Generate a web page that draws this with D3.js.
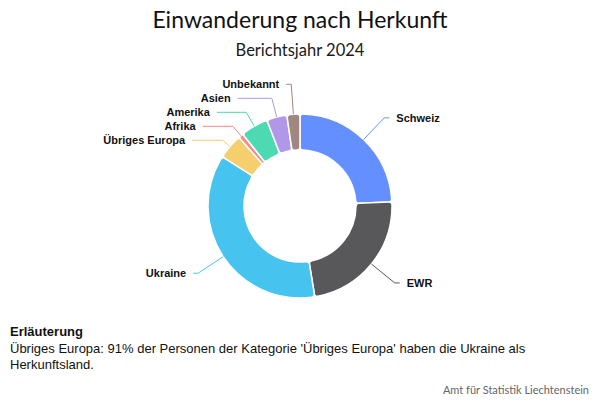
<!DOCTYPE html>
<html>
<head>
<meta charset="utf-8">
<script src="https://cdn.jsdelivr.net/npm/d3@7"></script>
<style>
    body { margin: 0; background: #fff; }
    svg { display: block; }
</style>
</head>
<body>
<div id="chart"></div>
<script>
// data (persons, estimated)
const categories = ["Schweiz", "EWR", "Ukraine", "Übriges Europa", "Afrika", "Amerika", "Asien", "Unbekannt"];
const values = [170, 162, 256, 31, 6, 34, 25, 16];
const colors = ["#648fff", "#58585a", "#47c3f0", "#f5cf6e", "#f88a88", "#4dd9b2", "#b197e8", "#a08880"];

const width = 600, height = 400;
const cx = 300, cy = 206;
const rInner = 56, rOuter = 92;
const rLine = 122, len2 = 5, gap = 7, labelH = 14;

const svg = d3.select("#chart").append("svg")
    .attr("width", width)
    .attr("height", height);

// titles
svg.append("text")
    .attr("x", width / 2).attr("y", 28)
    .attr("text-anchor", "middle")
    .style("font-family", "Lato, sans-serif")
    .style("font-size", "23px")
    .style("fill", "#111")
    .text("Einwanderung nach Herkunft");

svg.append("text")
    .attr("x", width / 2).attr("y", 56)
    .attr("text-anchor", "middle")
    .style("font-family", "Lato, sans-serif")
    .style("font-size", "16.5px")
    .style("fill", "#1a1a1a")
    .text("Berichtsjahr 2024");

const data = categories.map((c, i) => ({name: c, value: values[i], color: colors[i]}));

const pie = d3.pie().sort(null).value(d => d.value);
const arc = d3.arc().innerRadius(rInner).outerRadius(rOuter).cornerRadius(3);
const arcs = pie(data);

const g = svg.append("g").attr("transform", `translate(${cx},${cy})`);

g.selectAll("path.slice")
    .data(arcs)
    .enter().append("path")
    .attr("class", "slice")
    .attr("d", arc)
    .style("fill", d => d.data.color)
    .style("stroke", "#fff")
    .style("stroke-width", 1.5);

// label layout: radial line, then horizontal, labels pushed apart on y
arcs.forEach(d => {
    d.mid = (d.startAngle + d.endAngle) / 2;
    d.dir = d.mid < Math.PI ? 1 : -1;
    d.ox = Math.sin(d.mid) * rOuter;
    d.oy = -Math.cos(d.mid) * rOuter;
    d.ly = -Math.cos(d.mid) * rLine;
});

[1, -1].forEach(dir => {
    const side = arcs.filter(d => d.dir === dir).sort((a, b) => a.ly - b.ly);
    let prev = -Infinity;
    side.forEach(d => {
        d.ly = Math.max(d.ly, prev + labelH);
        prev = d.ly;
    });
});

arcs.forEach(d => {
    const dx = Math.sqrt(Math.max(0, rLine * rLine - d.ly * d.ly));
    d.ex = d.dir * (dx + len2);
    const c = -Math.cos(d.mid);
    const t = Math.abs(c) > 1e-6 ? (d.ly - d.oy) / c : rLine - rOuter;
    d.kx = d.ox + t * Math.sin(d.mid);
});

g.selectAll("polyline.leader")
    .data(arcs)
    .enter().append("polyline")
    .attr("class", "leader")
    .attr("points", d => [[d.ox, d.oy], [d.kx, d.ly], [d.ex, d.ly]].map(p => p.join(",")).join(" "))
    .style("fill", "none")
    .style("stroke", d => d.data.color)
    .style("stroke-width", 1);

g.selectAll("text.label")
    .data(arcs)
    .enter().append("text")
    .attr("class", "label")
    .attr("x", d => d.ex + d.dir * gap)
    .attr("y", d => d.ly)
    .attr("dy", "0.35em")
    .attr("text-anchor", d => d.dir === 1 ? "start" : "end")
    .style("font-family", "'Liberation Sans', Arial, sans-serif")
    .style("font-size", "11px")
    .style("font-weight", "bold")
    .style("fill", "#111")
    .text(d => d.data.name);

// note
const note = svg.append("text")
    .attr("x", 10).attr("y", 336)
    .style("font-family", "'Liberation Sans', Arial, sans-serif")
    .style("font-size", "13px")
    .style("fill", "#111");
note.append("tspan").attr("x", 10).attr("y", 336).style("font-weight", "bold").text("Erläuterung");
note.append("tspan").attr("x", 10).attr("y", 353)
    .text("Übriges Europa: 91% der Personen der Kategorie 'Übriges Europa' haben die Ukraine als");
note.append("tspan").attr("x", 10).attr("y", 369).text("Herkunftsland.");

svg.append("text")
    .attr("x", 589).attr("y", 394)
    .attr("text-anchor", "end")
    .style("font-family", "Lato, sans-serif")
    .style("font-size", "11px")
    .style("fill", "#666")
    .text("Amt für Statistik Liechtenstein");
</script>
</body>
</html>
